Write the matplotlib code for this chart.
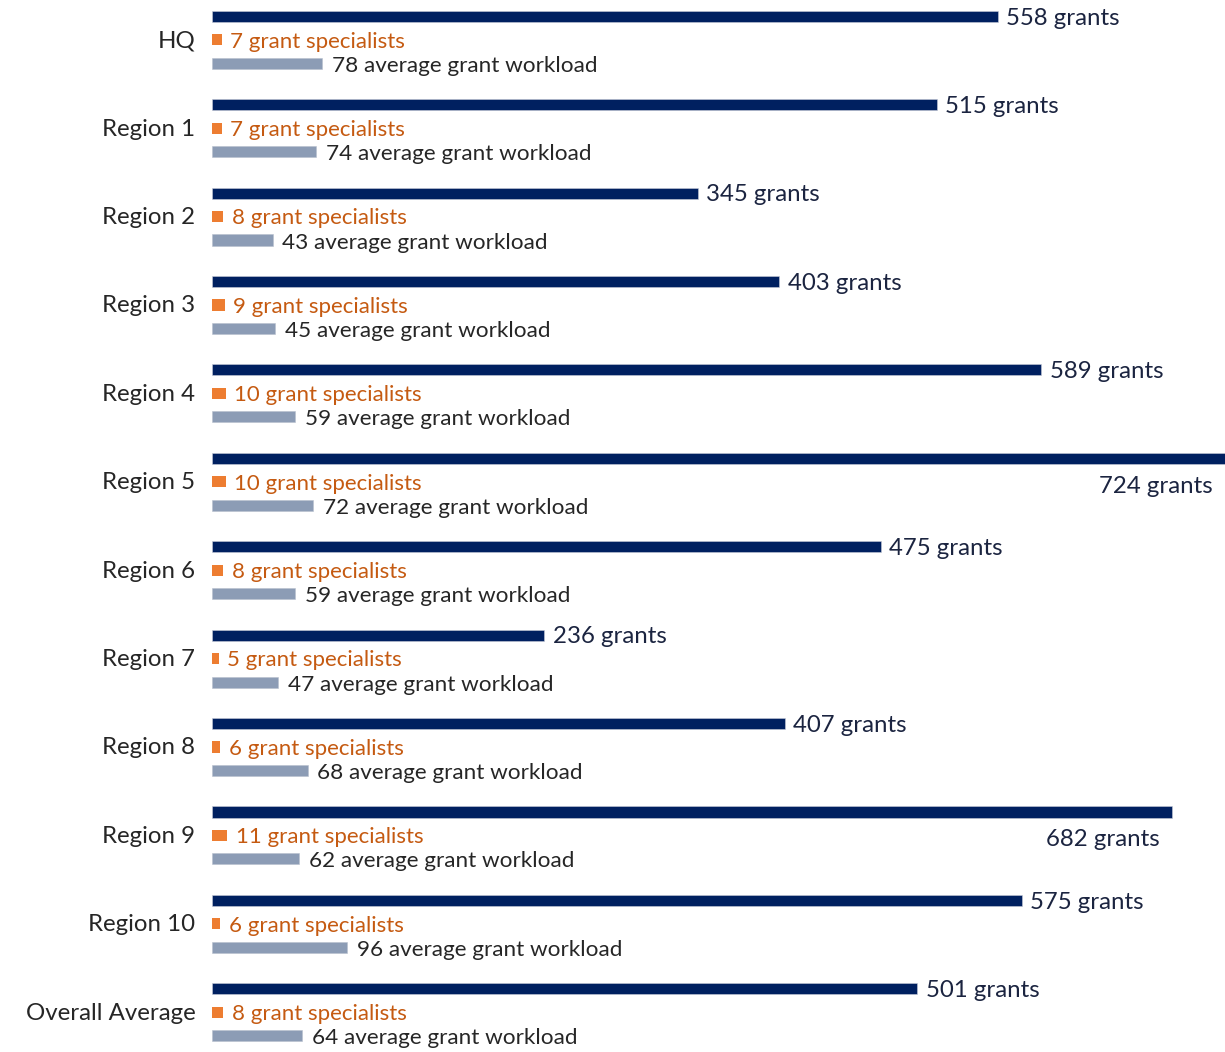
import matplotlib
matplotlib.use("Agg")
import matplotlib.pyplot as plt
import numpy as np

categories = ["HQ", "Region 1", "Region 2", "Region 3", "Region 4", "Region 5",
              "Region 6", "Region 7", "Region 8", "Region 9", "Region 10", "Overall Average"]
grants = [558, 515, 345, 403, 589, 724, 475, 236, 407, 682, 575, 501]
specialists = [7, 7, 8, 9, 10, 10, 8, 5, 6, 11, 6, 8]
workload = [78, 74, 43, 45, 59, 72, 59, 47, 68, 62, 96, 64]

plt.rcParams['font.family'] = ['Lato', 'DejaVu Sans']

NAVY = '#002060'
ORANGE = '#ED7D31'
ORANGE_TXT = '#C55A11'
GREY = '#8C9CB5'
TXT = '#262626'
NAVY_TXT = '#1B2440'

fig = plt.figure(figsize=(12.25, 10.52), dpi=100)
ax = fig.add_axes([212 / 1225, 0, 1 - 212 / 1225, 1])

n = len(categories)
y = np.arange(n)
off = 0.265
h = 0.125
xmax = 1013 / 1.408

ax.barh(y - off, grants, height=h, color=NAVY, edgecolor='#C8CCD8', linewidth=0.4)
ax.barh(y, specialists, height=h, color=ORANGE)
ax.barh(y + off, workload, height=h, color=GREY, edgecolor='#B8C0CE', linewidth=0.4)

ax.set_xlim(0, xmax)
ax.set_ylim(n - 0.55, -0.45)
ax.axis('off')

fs_big = 17.3
fs_spec = 16.0
fs_work = 16.2
for i in range(n):
    g = grants[i]
    if g > 650:
        ax.annotate(f"{g} grants", xy=(min(g, xmax), y[i] + 0.05), xytext=(-9, 0),
                    textcoords='offset points', ha='right', va='center',
                    fontsize=fs_big, color=NAVY_TXT, annotation_clip=False)
    else:
        ax.annotate(f"{g} grants", xy=(g, y[i] - off + 0.02), xytext=(6, 0),
                    textcoords='offset points', ha='left', va='center',
                    fontsize=fs_big, color=NAVY_TXT, annotation_clip=False)
    ax.annotate(f"{specialists[i]} grant specialists", xy=(specialists[i], y[i] + 0.02),
                xytext=(6, 0), textcoords='offset points', ha='left', va='center',
                fontsize=fs_spec, color=ORANGE_TXT, annotation_clip=False)
    ax.annotate(f"{workload[i]} average grant workload", xy=(workload[i], y[i] + off + 0.03),
                xytext=(7, 0), textcoords='offset points', ha='left', va='center',
                fontsize=fs_work, color=TXT, annotation_clip=False)
    ax.annotate(categories[i], xy=(0, y[i] + 0.01), xytext=(-12, 0),
                textcoords='offset points', ha='right', va='center',
                fontsize=fs_big, color=TXT, annotation_clip=False)

fig.savefig("out.png", dpi=100, facecolor='white')
